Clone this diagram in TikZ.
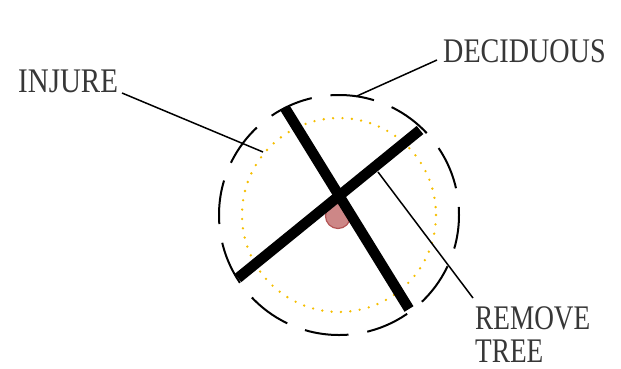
\documentclass[tikz,border=0pt]{standalone}
\usepackage{fontspec}
\setmainfont{Liberation Serif}
\definecolor{dotorange}{RGB}{245,190,0}
\definecolor{pinkfill}{RGB}{205,135,135}
\definecolor{pinkdraw}{RGB}{180,85,85}
\definecolor{labelgray}{RGB}{55,55,55}
\begin{document}
\begin{tikzpicture}[x=1pt,y=-1pt,
  lbl/.style={inner sep=0pt, anchor=base west, text=labelgray, font=\fontsize{34.5}{36}\selectfont},
  leader/.style={line width=1.5pt, black},
  bar/.style={line width=10.5pt, black},
]
\useasboundingbox (0,0) rectangle (621,368);
% circles
\coordinate (c) at (339,215);
\draw[line width=2pt, dash pattern=on 44pt off 19pt, dash phase=10pt] (c) circle[radius=120];
\draw[dotorange, line width=2.6pt, line cap=round, dash pattern=on 0pt off 9.4pt] (c) circle[radius=97];
% pink marker
\node[circle, fill=pinkfill, draw=pinkdraw, line width=1.2pt, minimum size=25pt, inner sep=0pt] (mark) at (338,216) {};
% bars
\coordinate (b1s) at (285,108);
\coordinate (b1e) at (409,309);
\coordinate (b2s) at (238,278);
\coordinate (b2e) at (420,130);
\draw[bar] (b1s) -- (b1e);
\draw[bar] (b2s) -- (b2e);
% labels
\node[lbl] (injure) at (18,92) {\scalebox{0.84}[1]{INJURE}};
\node[lbl] (decid) at (443,62) {\scalebox{0.815}[1]{DECIDUOUS}};
\node[lbl] (remove) at (475,329) {\scalebox{0.79}[1]{REMOVE}};
\node[lbl] (tree) at (475,362) {\scalebox{0.79}[1]{TREE}};
% leader ends
\coordinate (injA) at (122,93);
\coordinate (injB) at (263,152);
\coordinate (decA) at (437,60);
\coordinate (decB) at (357,96);
\coordinate (remA) at (473,298);
\coordinate (remB) at (378,172);
\draw[leader] (injA) -- (injB);
\draw[leader] (decA) -- (decB);
\draw[leader] (remA) -- (remB);
\end{tikzpicture}
\end{document}
